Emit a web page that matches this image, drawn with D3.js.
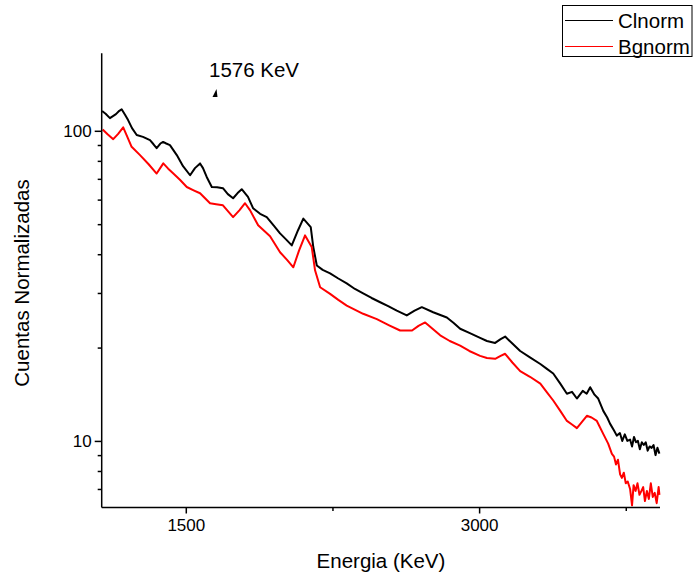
<!DOCTYPE html>
<html>
<head>
<meta charset="utf-8">
<script src="https://cdn.jsdelivr.net/npm/d3@7"></script>
<style>
  body { margin: 0; background: #fff; }
  text { font-family: "Liberation Sans", Arial, sans-serif; fill: #000; }
</style>
</head>
<body>
<svg id="chart" width="695" height="579"></svg>
<script>
// energias (KeV) y cuentas
var clE = [1072, 1090, 1112, 1143, 1160, 1172, 1190, 1205, 1225, 1249, 1281, 1317, 1335, 1351, 1370, 1384, 1400, 1419, 1454, 1486,
           1522, 1547, 1573, 1588, 1607, 1633, 1660, 1690, 1715, 1742, 1765, 1786, 1818, 1844, 1880, 1914, 1950, 1982, 2015, 2042,
           2074, 2101, 2120, 2139, 2152, 2170, 2200, 2238, 2280, 2323, 2365, 2407, 2450, 2494, 2535, 2579, 2630, 2670, 2707, 2765,
           2835, 2870, 2903, 2950, 3005, 3040, 3082, 3110, 3133, 3170, 3210, 3260, 3313, 3345, 3379, 3415, 3449, 3475, 3500, 3530,
           3550, 3568, 3590, 3609, 3635, 3655, 3670, 3690, 3704, 3720, 3732, 3745, 3758, 3772, 3782, 3792, 3802, 3812, 3822, 3832,
           3842, 3852, 3862, 3872, 3882, 3892, 3902, 3912, 3922];
var clV = [115.8, 113.5, 109.9, 113.2, 116.0, 117.3, 112.5, 108.3, 102.0, 96.9, 95.6, 93.3, 90.5, 87.9, 91.0, 92.1, 91.0, 89.9, 83.5, 76.9,
           71.9, 75.8, 78.5, 75.8, 71.0, 65.9, 65.8, 65.3, 62.5, 60.6, 63.0, 64.8, 61.2, 56.3, 54.0, 52.7, 49.5, 46.7, 44.5, 42.7,
           47.8, 52.1, 50.5, 48.9, 42.2, 36.8, 35.6, 34.7, 33.4, 32.2, 30.9, 29.9, 28.9, 28.0, 27.2, 26.3, 25.4, 26.3, 27.0, 26.0,
           25.0, 24.0, 23.0, 22.3, 21.5, 21.0, 20.7, 21.3, 21.7, 20.6, 19.5, 18.6, 17.7, 17.1, 16.5, 15.3, 14.2, 14.4, 13.7, 14.5,
           14.2, 14.9, 14.1, 13.7, 12.5, 11.9, 11.35, 10.8, 10.4, 10.6, 10.0, 10.5, 10.0, 10.1, 9.6, 10.3, 9.9, 10.0, 9.4, 9.9,
           9.7, 9.9, 9.3, 9.6, 9.5, 9.7, 9.0, 9.5, 9.1];

var bgE = [1075, 1100, 1129, 1153, 1180, 1200, 1223, 1266, 1310, 1351, 1385, 1410, 1435, 1470, 1505, 1540, 1573, 1624, 1655, 1690,
           1742, 1775, 1803, 1829, 1870, 1931, 1982, 2020, 2050, 2079, 2110, 2144, 2161, 2187, 2238, 2280, 2323, 2407, 2477, 2540,
           2596, 2657, 2690, 2724, 2801, 2850, 2903, 2950, 3005, 3040, 3082, 3110, 3133, 3170, 3210, 3260, 3313, 3345, 3379, 3415,
           3449, 3475, 3500, 3525, 3551, 3575, 3602, 3636, 3660, 3679, 3690, 3700, 3710, 3721, 3730, 3740, 3750, 3760, 3772, 3782,
           3790, 3800, 3810, 3820, 3830, 3839, 3848, 3858, 3868, 3878, 3888, 3898, 3908, 3918, 3922];
var bgV = [101.0, 97.5, 94.0, 97.6, 102.6, 96.0, 88.8, 83.5, 78.0, 72.8, 78.5, 75.5, 73.0, 69.5, 65.9, 64.3, 62.9, 58.4, 58.0, 57.5,
           52.7, 55.5, 58.4, 55.4, 49.6, 45.7, 40.6, 38.2, 36.3, 41.1, 46.0, 42.2, 35.5, 31.3, 29.8, 28.5, 27.3, 25.7, 24.7, 23.6,
           22.7, 22.7, 23.5, 24.1, 21.9, 21.0, 20.3, 19.5, 18.8, 18.5, 18.4, 18.8, 19.1, 17.9, 16.8, 16.1, 15.3, 14.4, 13.5, 12.5,
           11.6, 11.3, 11.0, 11.5, 12.05, 11.9, 11.6, 10.5, 9.8, 9.08, 8.9, 8.4, 8.7, 7.8, 7.6, 7.9, 7.3, 7.4, 7.0, 6.2,
           7.2, 6.9, 7.3, 6.7, 6.9, 7.1, 6.4, 6.9, 6.5, 7.3, 6.6, 6.8, 6.3, 7.1, 6.7];

var xTicks = [1500, 3000];
var xMinor = [2250, 3750];
var yTicks = [10, 100];
var yMinor = [7, 8, 9, 20, 30, 40, 50, 60, 70, 80, 90];

var svg = d3.select("#chart");

var x = d3.scaleLinear().domain([1070, 3925]).range([101.7, 660]);
var y = d3.scaleLog().domain([6.1, 177.8]).range([507.5, 53.3]);

var line = d3.line()
    .x(function (d) { return x(d[0]); })
    .y(function (d) { return y(d[1]); });

var cl = clE.map(function (e, i) { return [e, clV[i]]; });
var bg = bgE.map(function (e, i) { return [e, bgV[i]]; });

svg.append("path").datum(cl)
    .attr("d", line)
    .attr("fill", "none")
    .attr("stroke", "#000")
    .attr("stroke-width", 2)
    .attr("stroke-linejoin", "round");

svg.append("path").datum(bg)
    .attr("d", line)
    .attr("fill", "none")
    .attr("stroke", "#ff0000")
    .attr("stroke-width", 2)
    .attr("stroke-linejoin", "round");

// eje x
var gx = svg.append("g").attr("transform", "translate(0,507.5)");
gx.call(d3.axisBottom(x).tickValues(xTicks).tickSize(6).tickPadding(5).tickFormat(d3.format("d")));
gx.append("g").call(d3.axisBottom(x).tickValues(xMinor).tickSize(3.5).tickFormat(""));
gx.selectAll(".domain").attr("d", "M101.7,0H660").attr("stroke-width", 1.5);
gx.selectAll("line").attr("stroke-width", 1.5);
gx.selectAll("text").style("font-size", "17px").attr("font-family", null);

// eje y
var gy = svg.append("g").attr("transform", "translate(101.7,0)");
gy.call(d3.axisLeft(y).tickValues(yTicks).tickSize(7).tickPadding(3).tickFormat(d3.format("d")));
gy.append("g").call(d3.axisLeft(y).tickValues(yMinor).tickSize(4).tickFormat(""));
gy.selectAll(".domain").attr("d", "M0,53.3V507.5").attr("stroke-width", 1.5);
gy.selectAll("line").attr("stroke-width", 1.5);
gy.selectAll("text").style("font-size", "17px").attr("font-family", null);

svg.selectAll(".domain").filter(function () { return this.parentNode.parentNode !== svg.node(); }).remove();

// titulos
svg.append("text")
    .attr("x", 381).attr("y", 568)
    .attr("text-anchor", "middle")
    .style("font-size", "20.5px")
    .text("Energia (KeV)");

svg.append("text")
    .attr("transform", "translate(29,283) rotate(-90)")
    .attr("text-anchor", "middle")
    .style("font-size", "20.5px")
    .text("Cuentas Normalizadas");

// anotacion
svg.append("text")
    .attr("x", 209).attr("y", 77)
    .style("font-size", "20.5px")
    .text("1576 KeV");
svg.append("path")
    .attr("d", "M212.5,97L216.5,89L217.5,97Z")
    .attr("fill", "#000");

// leyenda
var leg = svg.append("g");
leg.append("rect")
    .attr("x", 562.5).attr("y", 5.5)
    .attr("width", 129.5).attr("height", 51)
    .attr("fill", "#fff").attr("stroke", "#000").attr("stroke-width", 1);
var items = [["Clnorm", "#000"], ["Bgnorm", "#ff0000"]];
items.forEach(function (it, i) {
    var cy = 20.5 + i * 26;
    leg.append("line")
        .attr("x1", 565).attr("x2", 613)
        .attr("y1", cy).attr("y2", cy)
        .attr("stroke", it[1]).attr("stroke-width", 1);
    leg.append("text")
        .attr("x", 618).attr("y", cy + 7.5)
        .style("font-size", "20.5px")
        .text(it[0]);
});
</script>
</body>
</html>
